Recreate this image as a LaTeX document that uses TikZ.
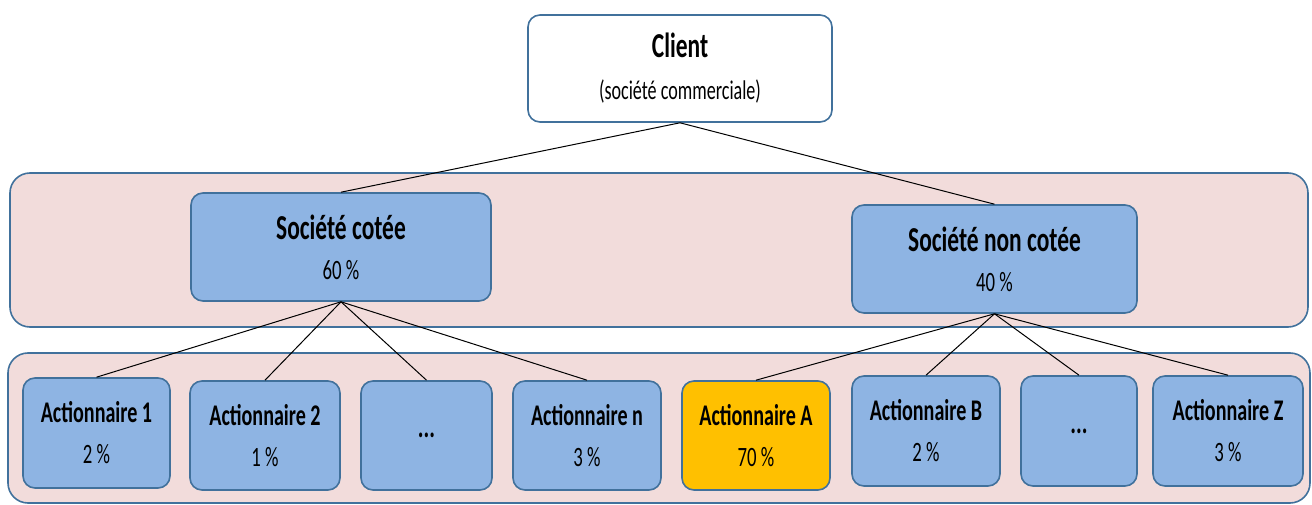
\documentclass[tikz,border=0pt]{standalone}
\usepackage{fontspec}
\setmainfont[FakeStretch=0.67]{Carlito}

\definecolor{bord}{RGB}{65,113,156}
\definecolor{rose}{RGB}{242,220,219}
\definecolor{bleu}{RGB}{142,180,227}
\definecolor{jaune}{RGB}{255,192,0}

\tikzstyle{band} = [rectangle, rounded corners=20pt, draw=bord, fill=rose, line width=1.6pt, inner sep=0pt]
\tikzstyle{soc} = [rectangle, rounded corners=12pt, draw=bord, fill=bleu, line width=1.6pt, minimum width=300pt, minimum height=108pt, inner sep=0pt, align=center, font=\fontsize{28}{40}\selectfont]
\tikzstyle{act} = [soc, minimum width=148pt, minimum height=109pt, font=\fontsize{28}{41}\selectfont]
\tikzstyle{link} = [draw=black, line width=1pt]

\begin{document}
\begin{tikzpicture}[x=1pt,y=-1pt]
    \useasboundingbox (0,0) rectangle (1312,505);
    % the two pink levels
    \node[band, minimum width=1298pt, minimum height=154pt] (level1) at (659,250) {};
    \node[band, minimum width=1302pt, minimum height=150pt] (level2) at (659,428) {};
    % client
    \node[soc, fill=white, minimum width=304pt, minimum height=107pt, font=\fontsize{27}{46}\selectfont] (client) at (680,68.5)
    {{\bfseries\fontsize{35}{46}\selectfont Client}\\[-4pt](société commerciale)};
    % companies
    \node[soc] (cotee) at (341,247) {{\bfseries\fontsize{35}{40}\selectfont Société cotée}\\60 \%};
    \node[soc, minimum width=285pt] (noncotee) at (994.5,259) {{\bfseries\fontsize{35}{40}\selectfont Société non cotée}\\40 \%};
    % shareholders
    \node[act, minimum width=147pt, minimum height=110pt] (a1) at (96.5,433) {{\bfseries\fontsize{30}{41}\selectfont Actionnaire 1}\\2 \%};
    \node[act, minimum width=150pt] (a2) at (265,435.5) {{\bfseries\fontsize{30}{41}\selectfont Actionnaire 2}\\1 \%};
    \node[act, minimum width=131pt] (adots) at (426.5,435.5) {\bfseries\fontsize{32}{41}\selectfont ...};
    \node[act] (an) at (587,435.5) {{\bfseries\fontsize{30}{41}\selectfont Actionnaire n}\\3 \%};
    \node[act, fill=jaune] (aA) at (756,435.5) {{\bfseries\fontsize{30}{41}\selectfont Actionnaire A}\\70 \%};
    \node[act, minimum height=110pt] (aB) at (926,431) {{\bfseries\fontsize{30}{41}\selectfont Actionnaire B}\\2 \%};
    \node[act, minimum width=116pt, minimum height=110pt] (zdots) at (1079,431) {\bfseries\fontsize{32}{41}\selectfont ...};
    \node[act, minimum width=150pt, minimum height=110pt] (aZ) at (1228,431) {{\bfseries\fontsize{30}{41}\selectfont Actionnaire Z}\\3 \%};
    % links
    \draw[link] (client.south) -- (cotee.north);
    \draw[link] (client.south) -- (noncotee.north);
    \foreach \s in {a1,a2,adots,an}
        \draw[link] (cotee.south) -- (\s.north);
    \foreach \s in {aA,aB,zdots,aZ}
        \draw[link] (noncotee.south) -- (\s.north);
\end{tikzpicture}
\end{document}
